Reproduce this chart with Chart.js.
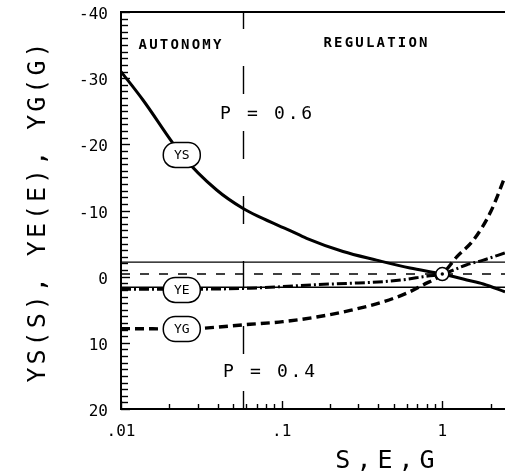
<!DOCTYPE html>
<html>
<head>
<meta charset="utf-8">
<script src="https://cdn.jsdelivr.net/npm/chart.js@4/dist/chart.umd.min.js"></script>
<style>
  html, body { margin: 0; padding: 0; background: #fff; }
  #wrap { width: 505px; height: 473px; }
  canvas { display: block; }
</style>
</head>
<body>
<div id="wrap"><canvas id="chart" width="505" height="473"></canvas></div>
<script>
// Axis ranges
const X_MIN = 0.01, X_MAX = 2.456;
const Y_MIN = -40, Y_MAX = 20;

// Log-axis tick positions and the decades that carry a label
const xTickValues = [0.01, 0.02, 0.03, 0.04, 0.05, 0.06, 0.07, 0.08, 0.09,
                     0.1, 0.2, 0.3, 0.4, 0.5, 0.6, 0.7, 0.8, 0.9, 1, 2];
const xMajorValues = [0.01, 0.1, 1];
const xMajorLabels = ['.01', '.1', '1'];
const yLabelStep = 10;
const yMinorStep = 1;

// YS as a function of S
const ysS   = [0.01, 0.0137, 0.0239, 0.0394, 0.0576, 0.0733, 0.112, 0.143, 0.241, 0.39, 0.63, 1.0, 1.42, 1.8, 2.456];
const ysVal = [-31, -26.7, -18.4, -13.1, -10.3, -9.0, -7.0, -5.8, -3.8, -2.5, -1.3, -0.4, 0.5, 1.1, 2.3];

// YE as a function of E
const yeE   = [0.01, 0.0239, 0.0635, 0.102, 0.165, 0.267, 0.428, 0.60, 0.759, 1.0, 1.42, 1.8, 2.456];
const yeVal = [1.9, 1.9, 1.75, 1.5, 1.2, 1.0, 0.75, 0.4, 0.0, -0.4, -1.8, -2.5, -3.6];

// YG as a function of G
const ygG   = [0.01, 0.0239, 0.0635, 0.102, 0.165, 0.267, 0.428, 0.60, 0.759, 1.0, 1.23, 1.56, 2.0, 2.456];
const ygVal = [7.85, 7.9, 7.2, 6.8, 6.1, 5.1, 3.8, 2.5, 1.25, -0.4, -3.0, -5.5, -9.8, -15.1];

// Tolerance band and balance level
const bandUpper = -2.2;
const bandLower = 1.6;
const balanceLevel = -0.4;

// Common equilibrium point
const equilibriumX = [1];
const equilibriumY = [-0.4];

// Boundary between the autonomy and regulation regimes
const regimeBoundary = 0.0576;

// Curve name tags: names, anchor abscissa, ordinates on their curves
const tagNames = ['YS', 'YE', 'YG'];
const tagX = 0.0239;
const tagY = [-18.4, 2.0, 7.9];

const pts = (xs, ys) => xs.map((v, i) => ({ x: v, y: ys[i] }));
const flat = (level) => [{ x: X_MIN, y: level }, { x: X_MAX, y: level }];

const MONO = '"DejaVu Sans Mono", "Liberation Mono", monospace';

function roundedBox(ctx, cx, cy, w, h, r) {
  const l = cx - w / 2, t = cy - h / 2, rr = Math.min(r, h / 2, w / 2);
  ctx.beginPath();
  ctx.moveTo(l + rr, t);
  ctx.lineTo(l + w - rr, t);
  ctx.arcTo(l + w, t, l + w, t + rr, rr);
  ctx.lineTo(l + w, t + h - rr);
  ctx.arcTo(l + w, t + h, l + w - rr, t + h, rr);
  ctx.lineTo(l + rr, t + h);
  ctx.arcTo(l, t + h, l, t + h - rr, rr);
  ctx.lineTo(l, t + rr);
  ctx.arcTo(l, t, l + rr, t, rr);
  ctx.closePath();
}

const frameAndTicks = {
  id: 'frameAndTicks',
  beforeDatasetsDraw(chart) {
    const { ctx, chartArea: a, scales: { x, y } } = chart;
    ctx.save();
    ctx.strokeStyle = '#000';

    // top edge of the frame
    ctx.lineWidth = 2;
    ctx.beginPath();
    ctx.moveTo(a.left, a.top);
    ctx.lineTo(a.right, a.top);
    ctx.stroke();

    // inward ticks on the S,E,G axis
    ctx.lineWidth = 1.4;
    xTickValues.forEach(v => {
      const px = Math.round(x.getPixelForValue(v)) + 0.5;
      const len = xMajorValues.includes(v) ? 8 : 5;
      ctx.beginPath();
      ctx.moveTo(px, a.bottom);
      ctx.lineTo(px, a.bottom - len);
      ctx.stroke();
    });

    // inward ticks on the Y axis
    for (let v = Y_MIN; v <= Y_MAX; v += yMinorStep) {
      const py = Math.round(y.getPixelForValue(v)) + 0.5;
      const len = (v % yLabelStep === 0) ? 9 : 7;
      ctx.beginPath();
      ctx.moveTo(a.left, py);
      ctx.lineTo(a.left + len, py);
      ctx.stroke();
    }

    // regime boundary
    const bx = Math.round(x.getPixelForValue(regimeBoundary)) + 0.5;
    ctx.lineWidth = 1.4;
    ctx.setLineDash([28, 37]);
    ctx.lineDashOffset = 11;
    ctx.beginPath();
    ctx.moveTo(bx, a.top);
    ctx.lineTo(bx, a.bottom);
    ctx.stroke();
    ctx.restore();
  },
  afterDatasetsDraw(chart) {
    const { ctx, scales: { x, y } } = chart;
    ctx.save();
    ctx.fillStyle = '#000';
    ctx.strokeStyle = '#000';

    // regime names
    ctx.font = 'bold 14px ' + MONO;
    ctx.letterSpacing = '2.2px';
    ctx.textAlign = 'center';
    ctx.textBaseline = 'middle';
    ctx.fillText('AUTONOMY', x.getPixelForValue(0.0233) + 1, y.getPixelForValue(-35));
    ctx.fillText('REGULATION', x.getPixelForValue(0.384) + 1, y.getPixelForValue(-35.2));

    // parameter values
    ctx.font = '18px ' + MONO;
    ctx.letterSpacing = '2.7px';
    ctx.textAlign = 'left';
    ctx.fillText('P = 0.6', x.getPixelForValue(0.0413), y.getPixelForValue(-24.6));
    ctx.fillText('P = 0.4', x.getPixelForValue(0.0431), y.getPixelForValue(14.4));

    // curve name tags
    ctx.letterSpacing = '0px';
    ctx.font = '13px ' + MONO;
    ctx.textAlign = 'center';
    tagNames.forEach((name, i) => {
      const cx = x.getPixelForValue(tagX);
      const cy = y.getPixelForValue(tagY[i]);
      roundedBox(ctx, cx, cy, 37, 25, 12);
      ctx.fillStyle = '#fff';
      ctx.fill();
      ctx.lineWidth = 1.5;
      ctx.stroke();
      ctx.fillStyle = '#000';
      ctx.fillText(name, cx, cy + 1);
    });

    // axis titles
    ctx.font = '25px ' + MONO;
    ctx.letterSpacing = '6px';
    ctx.textAlign = 'center';
    ctx.fillText('S,E,G', 388, 461);

    ctx.save();
    ctx.translate(38, 211);
    ctx.rotate(-Math.PI / 2);
    ctx.letterSpacing = '3px';
    ctx.fillText('YS(S), YE(E), YG(G)', 0, 0);
    ctx.restore();

    ctx.restore();
  }
};

const lineStyle = {
  type: 'line',
  borderColor: '#000',
  pointRadius: 0,
  pointHoverRadius: 0,
  fill: false,
  cubicInterpolationMode: 'monotone'
};

new Chart(document.getElementById('chart'), {
  data: {
    datasets: [
      { type: 'scatter', label: 'center', data: pts(equilibriumX, equilibriumY), order: 0,
        pointRadius: 1.7, pointBackgroundColor: '#000', pointBorderColor: '#000', pointBorderWidth: 0 },
      { type: 'scatter', label: 'equilibrium', data: pts(equilibriumX, equilibriumY), order: 1,
        pointRadius: 6.5, pointBackgroundColor: '#fff', pointBorderColor: '#000', pointBorderWidth: 1.5 },
      { ...lineStyle, label: 'YS', data: pts(ysS, ysVal), order: 2, borderWidth: 3 },
      { ...lineStyle, label: 'YE', data: pts(yeE, yeVal), order: 2, borderWidth: 3, borderDash: [10, 3, 2, 3] },
      { ...lineStyle, label: 'YG', data: pts(ygG, ygVal), order: 2, borderWidth: 3.4, borderDash: [9, 5] },
      { ...lineStyle, label: 'upper', data: flat(bandUpper), order: 3, borderWidth: 1.3, cubicInterpolationMode: 'default', tension: 0 },
      { ...lineStyle, label: 'lower', data: flat(bandLower), order: 3, borderWidth: 1.3, cubicInterpolationMode: 'default', tension: 0 },
      { ...lineStyle, label: 'balance', data: flat(balanceLevel), order: 3, borderWidth: 1.3, borderDash: [9, 10], cubicInterpolationMode: 'default', tension: 0 }
    ]
  },
  options: {
    responsive: false,
    animation: false,
    devicePixelRatio: 1,
    layout: { autoPadding: false, padding: { top: 12, right: 0, bottom: 0, left: 0 } },
    plugins: { legend: { display: false }, tooltip: { enabled: false }, title: { display: false } },
    events: [],
    scales: {
      x: {
        type: 'logarithmic',
        position: 'bottom',
        min: X_MIN,
        max: X_MAX,
        afterBuildTicks: (s) => { s.ticks = xTickValues.map(v => ({ value: v, major: xMajorValues.includes(v) })); },
        afterFit: (s) => { s.height = 64; s.paddingLeft = 0; s.paddingRight = 0; },
        ticks: {
          autoSkip: false,
          maxRotation: 0,
          minRotation: 0,
          padding: 13,
          color: '#000',
          font: { family: MONO, size: 16 },
          callback: (v) => {
            const k = xMajorValues.findIndex(m => Math.abs(m - v) < 1e-9);
            return k >= 0 ? xMajorLabels[k] : '';
          }
        },
        grid: { display: false, drawTicks: false },
        border: { display: true, color: '#000', width: 2 }
      },
      y: {
        type: 'linear',
        position: 'left',
        reverse: true,
        min: Y_MIN,
        max: Y_MAX,
        afterFit: (s) => { s.width = 121; s.paddingTop = 0; s.paddingBottom = 0; },
        ticks: {
          stepSize: yLabelStep,
          padding: 13,
          labelOffset: 3,
          color: '#000',
          font: { family: MONO, size: 16 }
        },
        grid: { display: false, drawTicks: false },
        border: { display: true, color: '#000', width: 2 }
      }
    }
  },
  plugins: [frameAndTicks]
});
</script>
</body>
</html>
